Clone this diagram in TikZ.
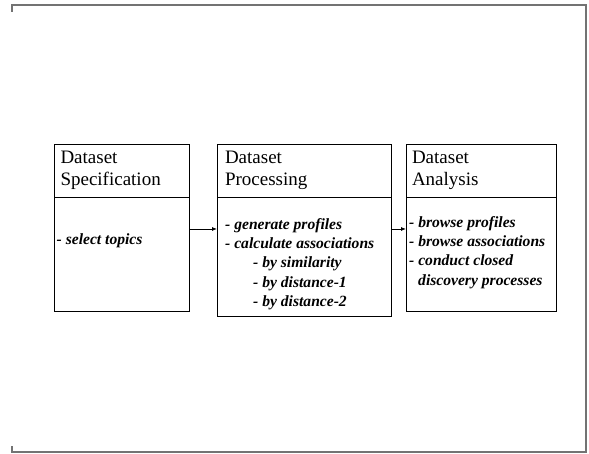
\documentclass[tikz,border=0pt]{standalone}
\usepackage{fontspec}
\setmainfont{Liberation Serif}
\usetikzlibrary{positioning,arrows.meta}
\tikzstyle{head}=[draw, line width=0.9pt, outer sep=0pt, inner xsep=6pt, minimum height=53pt, align=left, font=\fontsize{19}{21.5}\selectfont]
\tikzstyle{body}=[draw, line width=0.9pt, outer sep=0pt, inner sep=0pt]
\tikzstyle{item}=[inner sep=0pt, align=left, font=\fontsize{15.6}{19.4}\selectfont\bfseries\itshape]
\tikzstyle{arrow}=[line width=0.8pt,->,>={Latex[length=5pt,width=4pt]}]
\tikzstyle{frame}=[line width=2pt, black!55]

\begin{document}
\begin{tikzpicture}[x=1pt,y=1pt]
\useasboundingbox (0,0) rectangle (589,454);
\draw[frame] (11.5,442) -- (11.5,448.5) -- (586,448.5) -- (586,1.5) -- (11.5,1.5) -- (11.5,8);

\node (head1) [head, text width=122.5pt, anchor=north west] at (54.5,310) {Dataset\\Specification};
\node (body1) [body, below=0pt of head1, minimum width=134.5pt, minimum height=114pt] {};
\node (head2) [head, text width=158pt, inner xsep=8pt, right=28pt of head1] {Dataset\\Processing};
\node (body2) [body, below=0pt of head2, minimum width=174pt, minimum height=119pt] {};
\node (head3) [head, text width=138pt, right=15pt of head2] {Dataset\\Analysis};
\node (body3) [body, below=0pt of head3, minimum width=150pt, minimum height=114pt] {};

\node (list1) [item, below right=36pt and 2pt of body1.north west] {- select topics};
\node (list2) [item, below right=21pt and 8pt of body2.north west] {- generate profiles\\- calculate associations\\\hspace*{28pt}- by similarity\\\hspace*{28pt}- by distance-1\\\hspace*{28pt}- by distance-2};
\node (list3) [item, below right=19pt and 3pt of body3.north west] {- browse profiles\\- browse associations\\- conduct closed\\\hspace*{9pt}discovery processes};

\draw[arrow] ([yshift=-32pt]body1.north east) -- ([yshift=-32pt]body2.north west);
\draw[arrow] ([yshift=-32pt]body2.north east) -- ([yshift=-32pt]body3.north west);
\end{tikzpicture}
\end{document}
